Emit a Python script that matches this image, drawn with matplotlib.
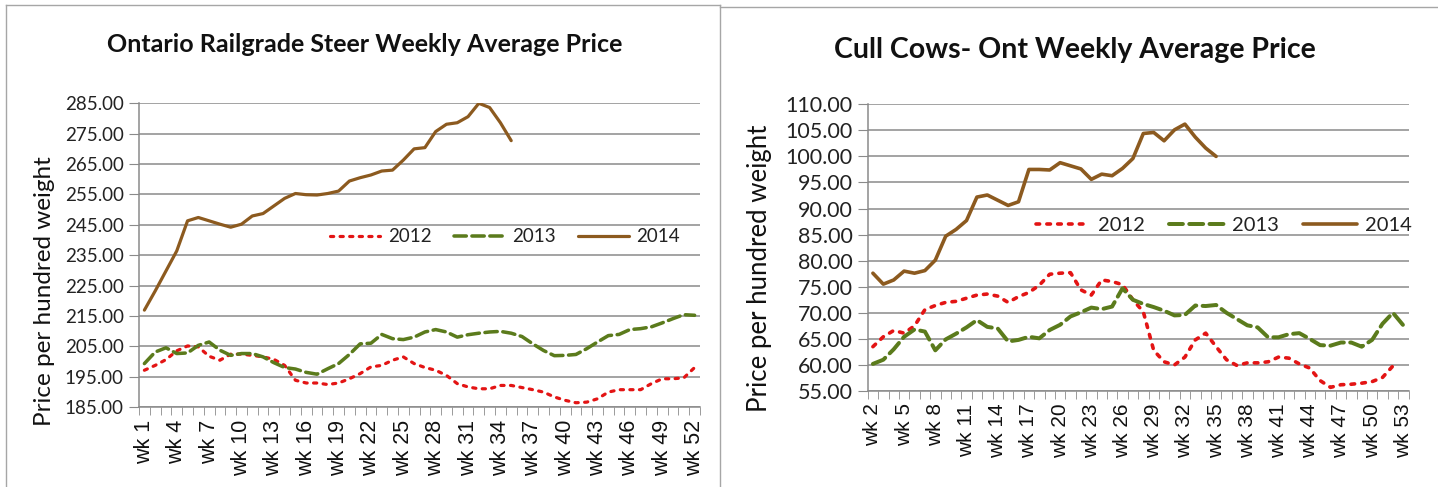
import matplotlib
matplotlib.use("Agg")
from matplotlib import pyplot as plt
from matplotlib import font_manager
from matplotlib.lines import Line2D

# fonts: pick a narrow sans if present, else Lato
names = set(f.name for f in font_manager.fontManager.ttflist)
narrow = 'Liberation Sans Narrow' if 'Liberation Sans Narrow' in names else 'Lato'
body = 'Lato'
plt.rcParams['font.family'] = [body, 'DejaVu Sans']

# ---- left chart: Ontario railgrade steer ----
steer_weeks = ['wk %d' % w for w in range(1, 53)]
steer_2012 = [197.1, 198.7, 200.6, 203.5, 205.1, 204.8, 201.7, 200.4, 202.4, 202.4,
              202.0, 201.5, 200.7, 198.7, 193.8, 192.9, 192.9, 192.4, 192.9, 194.3,
              196.0, 198.2, 198.7, 200.4, 201.5, 199.3, 198.0, 197.1, 195.4, 192.7,
              191.6, 191.0, 191.0, 192.1, 192.1, 191.4, 190.7, 189.9, 188.3, 187.2,
              186.4, 186.6, 187.7, 189.9, 190.7, 190.7, 190.7, 192.7, 194.3, 194.3,
              194.6, 198.0]
steer_2013 = [199.3, 203.1, 204.5, 202.6, 202.8, 205.3, 206.4, 203.7, 202.0, 202.6,
              202.6, 201.5, 199.6, 198.0, 197.5, 196.4, 195.8, 197.6, 199.3, 202.3,
              205.8, 206.0, 208.9, 207.5, 207.2, 208.0, 209.7, 210.5, 209.7, 208.0,
              208.8, 209.3, 209.7, 209.9, 209.3, 208.2, 205.8, 203.6, 201.9, 202.0,
              202.3, 204.2, 206.4, 208.5, 208.9, 210.5, 210.8, 211.4, 212.7, 214.1,
              215.4, 215.2]
steer_2014 = [216.9, 223.2, 229.8, 236.4, 246.3, 247.4, 246.3, 245.2, 244.2, 245.2,
              247.9, 248.7, 251.2, 253.7, 255.3, 254.9, 254.8, 255.3, 256.1, 259.4,
              260.5, 261.4, 262.7, 263.0, 266.3, 270.0, 270.4, 275.7, 278.1, 278.6,
              280.6, 285.0, 283.6, 278.6, 272.7]

# ---- right chart: cull cows ----
cow_weeks = ['wk %d' % w for w in range(2, 54)]
cow_2012 = [63.5, 65.4, 66.6, 66.1, 67.5, 70.6, 71.4, 72.0, 72.2, 72.8,
            73.4, 73.6, 73.2, 72.0, 73.1, 73.9, 75.3, 77.4, 77.6, 77.7,
            74.4, 73.4, 76.3, 76.0, 75.4, 72.5, 70.2, 62.8, 60.6, 60.0,
            61.5, 64.8, 66.1, 63.5, 61.0, 59.9, 60.4, 60.4, 60.6, 61.5,
            61.3, 60.2, 59.4, 57.0, 55.7, 56.2, 56.3, 56.5, 56.8, 57.6,
            59.8]
cow_2013 = [60.2, 61.0, 63.0, 65.4, 66.8, 66.4, 62.8, 64.9, 66.0, 67.2,
            68.6, 67.3, 67.0, 64.5, 64.8, 65.4, 65.1, 66.7, 67.7, 69.3,
            70.1, 71.0, 70.7, 71.2, 74.7, 72.5, 71.7, 71.1, 70.4, 69.5,
            69.6, 71.4, 71.3, 71.5, 70.0, 68.8, 67.6, 67.2, 65.3, 65.3,
            65.9, 66.1, 65.0, 63.8, 63.7, 64.3, 64.3, 63.5, 64.8, 67.9,
            70.0, 67.6]
cow_2014 = [77.6, 75.5, 76.3, 78.0, 77.6, 78.1, 80.1, 84.7, 86.0, 87.7,
            92.2, 92.6, 91.6, 90.6, 91.3, 97.5, 97.5, 97.4, 98.8, 98.2,
            97.6, 95.6, 96.6, 96.3, 97.7, 99.6, 104.4, 104.6, 103.0, 105.1,
            106.2, 103.7, 101.6, 100.0]

years = ['2012', '2013', '2014']
colors = ['#e31414', '#5b7b1c', '#8c5a1f']
grid_col = '#8a8a8a'

W, H = 1438, 487
fig = plt.figure(figsize=(W / 100, H / 100), dpi=100)


def px_axes(x0, y0, x1, y1):
    # pixel box (top-left origin) -> axes
    return fig.add_axes([x0 / W, 1 - y1 / H, (x1 - x0) / W, (y1 - y0) / H])


def draw(ax, labels, series, ymin, ymax, step, lw, tick_fs, x_fs, leg_fs, leg_xy):
    n = len(labels)
    styles = [(0, (1, 2)), (0, (3.5, 1.6)), '-']
    widths = [lw, lw * 1.1, lw]
    for vals, c, ls, w, name in zip(series, colors, styles, widths, years):
        ax.plot(range(len(vals)), vals, color=c, linestyle=ls, linewidth=w,
                label=name, solid_capstyle='round', dash_capstyle='round')
    ax.set_xlim(-0.5, n - 0.5)
    ax.set_ylim(ymin, ymax)
    yt = [ymin + i * step for i in range(int(round((ymax - ymin) / step)) + 1)]
    ax.set_yticks(yt)
    ax.set_yticklabels(['%.2f' % v for v in yt], fontsize=tick_fs, color='#222222')
    ax.set_xticks(range(0, n, 3))
    ax.set_xticklabels(labels[::3], rotation=90, fontsize=x_fs,
                       family=['Liberation Sans', 'DejaVu Sans'], color='#111111')
    ax.set_xticks([i - 0.5 for i in range(n + 1)], minor=True)
    ax.tick_params(axis='x', which='major', length=0, pad=9)
    ax.tick_params(axis='x', which='minor', length=6, color=grid_col, direction='out')
    ax.tick_params(axis='y', length=7, color=grid_col, pad=4)
    ax.grid(axis='y', color=grid_col, linewidth=1.1)
    ax.set_axisbelow(True)
    for s in ['top', 'right']:
        ax.spines[s].set_visible(False)
    for s in ['left', 'bottom']:
        ax.spines[s].set_color(grid_col)
        ax.spines[s].set_linewidth(1.1)
    leg = ax.legend(loc='center', bbox_to_anchor=leg_xy, ncol=3, frameon=False,
                    fontsize=leg_fs, handlelength=2.7, handletextpad=0.4,
                    columnspacing=1.2)
    for t in leg.get_texts():
        t.set_color('#222222')


ax1 = px_axes(139, 103.3, 700, 407)
draw(ax1, steer_weeks, [steer_2012, steer_2013, steer_2014], 185, 285, 10,
     2.3, 13.5, 15.5, 13.5, (0.652, 0.56))

ax2 = px_axes(867.7, 104.3, 1408.5, 391)
draw(ax2, cow_weeks, [cow_2012, cow_2013, cow_2014], 55, 110, 5,
     2.6, 15.5, 15, 14.5, (0.659, 0.579))

# titles and axis labels
fig.text(365 / W, 1 - 44 / H, 'Ontario Railgrade Steer Weekly Average Price',
         ha='center', va='center', fontsize=18, fontweight='bold',
         family=[narrow, 'DejaVu Sans'], color='#111111')
fig.text(1075 / W, 1 - 50 / H, 'Cull Cows- Ont Weekly Average Price',
         ha='center', va='center', fontsize=20.5, fontweight='bold',
         family=[narrow, 'DejaVu Sans'], color='#111111')
fig.text(45 / W, 1 - 291 / H, 'Price per hundred weight', rotation=90,
         ha='center', va='center', fontsize=17.5, color='#111111')
fig.text(760 / W, 1 - 268 / H, 'Price per hundred weight', rotation=90,
         ha='center', va='center', fontsize=18.5, color='#111111')

# panel borders
bc = '#a6a6a6'
fig.add_artist(Line2D([6 / W, 6 / W], [0, 1 - 5 / H], color=bc, lw=1))
fig.add_artist(Line2D([6 / W, 720 / W], [1 - 5 / H, 1 - 5 / H], color=bc, lw=1))
fig.add_artist(Line2D([720 / W, 720 / W], [0, 1 - 5 / H], color=bc, lw=1))
fig.add_artist(Line2D([720 / W, 1], [1 - 7 / H, 1 - 7 / H], color=bc, lw=1))

fig.savefig('out.png', dpi=100)
